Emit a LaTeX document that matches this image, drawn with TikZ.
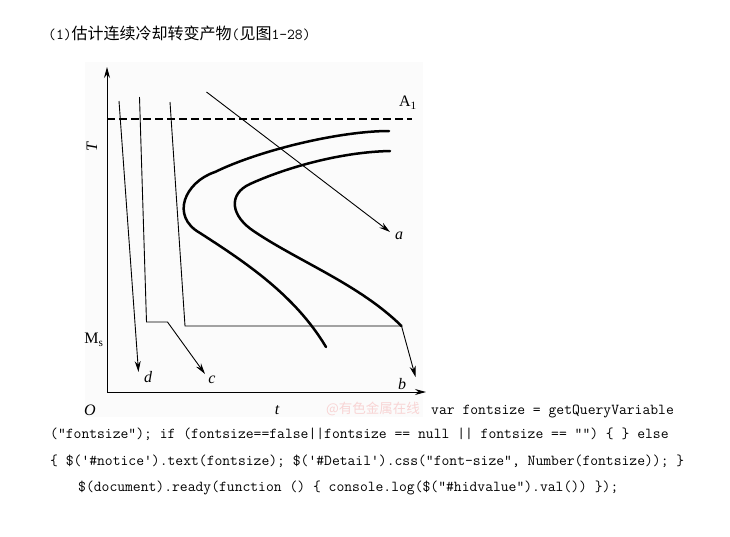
\documentclass[tikz,border=0pt]{standalone}
\usepackage{fontspec}
\setmainfont{Liberation Serif}
\newfontfamily\cjkfont{Noto Sans CJK SC}
\usetikzlibrary{arrows.meta}
\definecolor{wmark}{RGB}{248,212,212}
\definecolor{figbg}{RGB}{251,251,251}
\begin{document}
\begin{tikzpicture}[x=1pt,y=-1pt,
  thinline/.style={line width=0.9pt},
  arr/.style={thinline,-{Stealth[length=11pt,width=6pt]}},
  ccurve/.style={line width=2.5pt,line cap=round,line join=round},
  lab/.style={inner sep=0pt,font=\fontsize{16}{18}\selectfont},
  code/.style={inner sep=0pt,anchor=west,font=\ttfamily\fontsize{15.2}{17}\selectfont}]
\useasboundingbox (0,0) rectangle (730,536);
\fill[white] (0,0) rectangle (730,536);
\fill[figbg] (85,62) rectangle (423,417);
% title
\node[inner sep=0pt,anchor=west] (title) at (48,33)
  {{\ttfamily\fontsize{15.2}{17}\selectfont(1)}{\cjkfont\fontsize{16}{18}\selectfont 估计连续冷却转变产物}{\ttfamily\fontsize{15.2}{17}\selectfont(}{\cjkfont\fontsize{16}{18}\selectfont 见图}{\ttfamily\fontsize{15.2}{17}\selectfont 1-28)}};
% axes
\coordinate (O) at (107,392);
\coordinate (ytip) at (107,67);
\coordinate (xtip) at (426,392);
\draw[arr] (O) -- (ytip);
\draw[arr] (O) -- (xtip);
% A1 dashed
\coordinate (a1l) at (107,119);
\coordinate (a1r) at (412,119);
\draw[line width=1.2pt,dash pattern=on 8pt off 4pt] (a1l) -- (a1r);
% C curves
\coordinate (s0) at (389,131); \coordinate (s1) at (215,172); \coordinate (s2) at (200,233); \coordinate (s3) at (326,347);
\draw[ccurve] (s0) .. controls (340,131) and (260,150) .. (s1)
  .. controls (185,182) and (170,216) .. (s2)
  .. controls (245,262) and (295,295) .. (s3);
\coordinate (f0) at (390,151); \coordinate (f1) at (250,184); \coordinate (f2) at (255,232); \coordinate (f3) at (401.5,326);
\draw[ccurve] (f0) .. controls (340,152) and (285,168) .. (f1)
  .. controls (228,194) and (230,216) .. (f2)
  .. controls (300,262) and (360,285) .. (f3);
% cooling curves
\coordinate (d0) at (119,101); \coordinate (d1) at (138.5,372);
\draw[arr] (d0) -- (d1);
\coordinate (c0) at (139.5,97); \coordinate (c1) at (146.5,322); \coordinate (c2) at (167.5,322); \coordinate (c3) at (205,374);
\draw[arr] (c0) -- (c1) -- (c2) -- (c3);
\coordinate (b0) at (170,102); \coordinate (b1) at (185,326); \coordinate (b3) at (415.5,377);
\draw[arr] (b0) -- (b1) -- (f3) -- (b3);
\coordinate (a0) at (206.5,92); \coordinate (a1) at (390,232);
\draw[arr] (a0) -- (a1);
% labels
\node[lab] (la) at (399,236) {\itshape a};
\node[lab] (lb) at (402,384) {\itshape b};
\node[lab] (lc) at (212,380) {\itshape c};
\node[lab] (ld) at (148,377) {\itshape d};
\node[lab] (lO) at (90,410) {\itshape O};
\node[lab] (lt) at (277,410) {\itshape t};
\node[lab,rotate=90] (lT) at (92,147) {\itshape T};
\node[lab] (lMs) at (94,340) {M\textsubscript{s}};
\node[lab] (lA1) at (408,103) {A\textsubscript{1}};
\node[inner sep=0pt,anchor=west,text=wmark,font=\cjkfont\fontsize{13.5}{15}\selectfont] (wm) at (326,409) {@有色金属在线};
% code text
\node[code] (l1) at (431,411) {var fontsize = getQueryVariable};
\node[code] (l2) at (50,434) {(”fontsize”); if (fontsize==false||fontsize == null || fontsize == ””) \{ \} else};
\node[code] (l3) at (50,461) {\{ \$('\#notice').text(fontsize); \$('\#Detail').css(”font-size”, Number(fontsize)); \}};
\node[code] (l4) at (78,488) {\$(document).ready(function () \{ console.log(\$(”\#hidvalue”).val()) \});};
\end{tikzpicture}
\end{document}
